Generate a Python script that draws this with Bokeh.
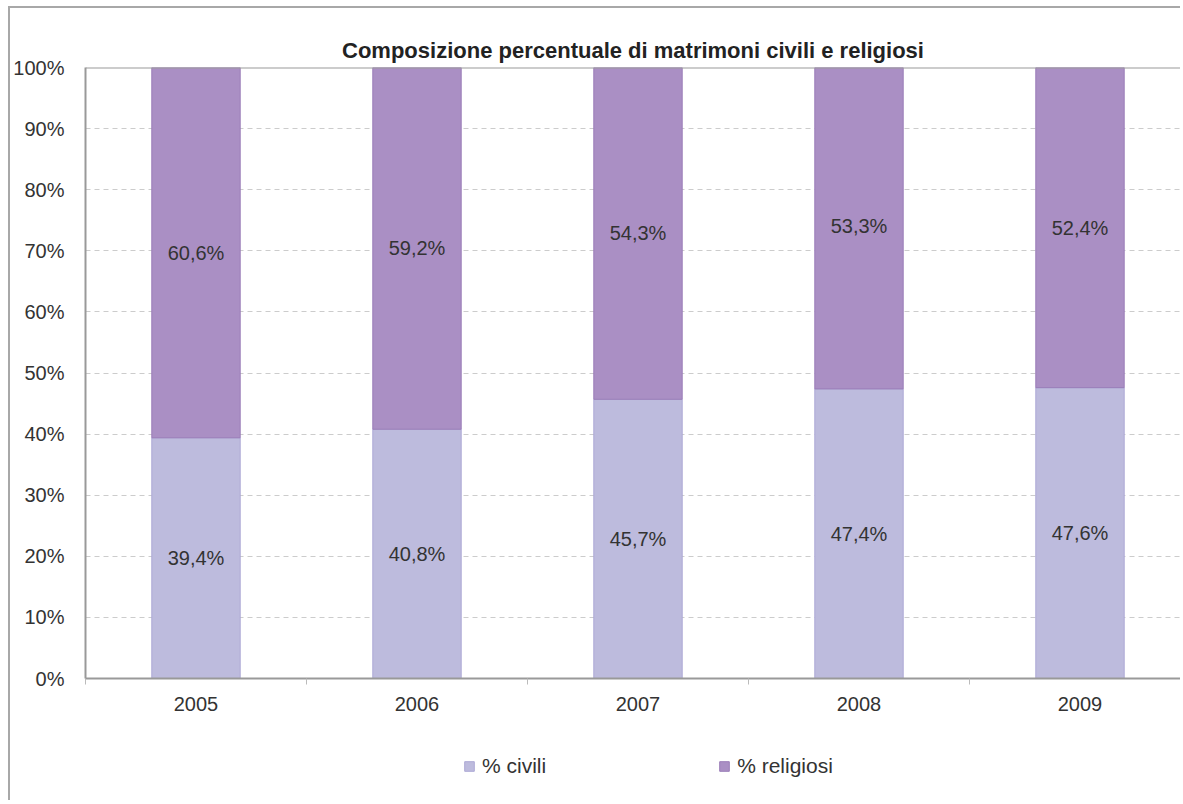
from bokeh.plotting import figure
from bokeh.models import (ColumnDataSource, FixedTicker, PrintfTickFormatter, Range1d,
                          Legend, LegendItem, Span)
from bokeh.layouts import column
from bokeh.core.properties import value
from bokeh.embed import file_html
from bokeh.resources import INLINE

years = ["2005", "2006", "2007", "2008", "2009"]
civili = [39.4, 40.8, 45.7, 47.4, 47.6]
religiosi = [60.6, 59.2, 54.3, 53.3, 52.4]
series_names = ["% civili", "% religiosi"]
colors = ["#BDBBDD", "#AA8FC4"]
line_colors = ["#ADA9D6", "#9A7DB8"]

FONT = "Liberation Sans"

xs = list(range(len(years)))
src = ColumnDataSource(dict(
    x=xs, civ=civili, rel=religiosi,
    civ_lab=[f"{v:.1f}".replace(".", ",") + "%" for v in civili],
    rel_lab=[f"{v:.1f}".replace(".", ",") + "%" for v in religiosi],
    civ_mid=[c / 2 for c in civili],
    rel_mid=[c + r / 2 for c, r in zip(civili, religiosi)],
))

# main chart placed at (10, 8) inside a bordered container
W = 1170
H1, H2 = 720, 72
LEFT, TOP = 75, 59
BOTTOM = H1 - (678 - 8)
p = figure(width=W, height=H1, output_backend="svg", toolbar_location=None,
           x_range=Range1d(-0.5, -0.5 + (W - LEFT) / 221), y_range=Range1d(0, 100),
           min_border_left=LEFT, min_border_right=0, min_border_top=TOP, min_border_bottom=BOTTOM)

p.title.text = "Composizione percentuale di matrimoni civili e religiosi"
p.title.align = "center"
p.title.text_font = FONT
p.title.text_font_size = "22px"
p.title.text_font_style = "bold"
p.title.text_color = "#222222"
p.title.standoff = 10

r = p.vbar_stack(["civ", "rel"], x="x", width=0.4, source=src,
                 fill_color=colors, line_color=line_colors, line_width=1)

p.text(x="x", y="civ_mid", text="civ_lab", source=src, text_align="center",
       text_baseline="middle", text_font=value(FONT), text_font_size="20px", text_color="#333333")
p.text(x="x", y="rel_mid", text="rel_lab", source=src, text_align="center",
       text_baseline="middle", text_font=value(FONT), text_font_size="20px", text_color="#333333")

p.outline_line_color = None
p.add_layout(Span(location=100, dimension="width", line_color="#999999", line_width=2))

# grid
p.xgrid.grid_line_color = None
p.ygrid.ticker = FixedTicker(ticks=list(range(10, 100, 10)))
p.ygrid.grid_line_color = "#cccccc"
p.ygrid.grid_line_dash = "5 4"
p.ygrid.grid_line_width = 1

# axes
p.yaxis.ticker = FixedTicker(ticks=list(range(0, 101, 10)))
p.yaxis.formatter = PrintfTickFormatter(format="%d%%")
p.yaxis.major_tick_line_color = None
p.yaxis.minor_tick_line_color = None
p.yaxis.axis_line_color = "#999999"
p.yaxis.axis_line_width = 2
p.yaxis.major_label_text_font = FONT
p.yaxis.major_label_text_font_size = "20px"
p.yaxis.major_label_text_color = "#333333"
p.yaxis.major_label_standoff = 15

p.xaxis.ticker = FixedTicker(ticks=xs, minor_ticks=[i + 0.5 for i in range(-1, len(years))])
p.xaxis.major_label_overrides = {i: y for i, y in zip(xs, years)}
p.xaxis.major_tick_line_color = None
p.xaxis.minor_tick_line_color = "#bbbbbb"
p.xaxis.minor_tick_in = 0
p.xaxis.minor_tick_out = 6
p.xaxis.axis_line_color = "#999999"
p.xaxis.axis_line_width = 2
p.xaxis.major_label_text_font = FONT
p.xaxis.major_label_text_font_size = "20px"
p.xaxis.major_label_text_color = "#333333"
p.xaxis.major_label_standoff = 12

# legend strip below the chart (legend-only swatch renderers, kept outside the visible range)
lg = figure(width=W, height=H2, output_backend="svg", toolbar_location=None,
            x_range=Range1d(10, 11), y_range=Range1d(10, 11),
            min_border=0, outline_line_color=None)
lg.axis.visible = False
lg.grid.visible = False
swatch_src = ColumnDataSource(dict(x=[0], top=[0]))
sw = [lg.vbar(x="x", top="top", width=0.1, source=swatch_src, fill_color=colors[i],
              line_color=line_colors[i]) for i in range(2)]
legend = Legend(items=[LegendItem(label=series_names[i], renderers=[sw[i]]) for i in range(2)],
                orientation="horizontal", location=(378, 22), spacing=172,
                label_text_font=FONT, label_text_font_size="21px", label_text_color="#333333",
                label_standoff=7, label_height=14,
                glyph_width=12, glyph_height=12, border_line_color=None,
                background_fill_alpha=0, margin=0, padding=0)
lg.add_layout(legend, "center")

layout = column(p, lg, margin=(6, 0, 0, 8), spacing=0,
                styles={"border-left": "2px solid #a8a8a8", "border-top": "2px solid #a8a8a8"})

open("out.html", "w").write(file_html(layout, INLINE))
